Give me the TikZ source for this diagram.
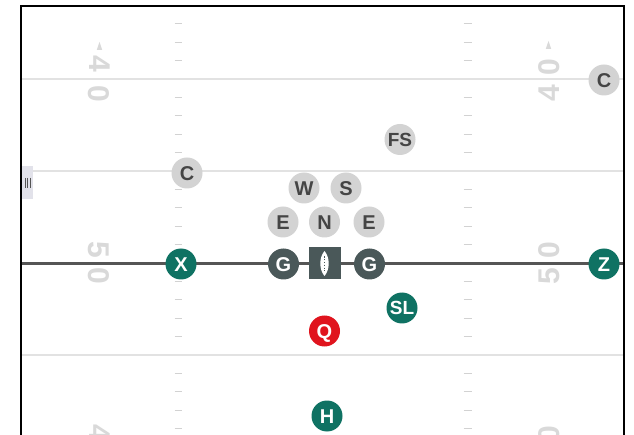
\documentclass[tikz,border=0pt]{standalone}
\usepackage{fontspec}
\setmainfont{Liberation Sans}
\definecolor{cgray}{HTML}{D3D3D3}
\definecolor{ctext}{HTML}{454545}
\definecolor{cdark}{HTML}{4A5859}
\definecolor{cteal}{HTML}{0F7263}
\definecolor{cred}{HTML}{E0141E}
\definecolor{cline}{HTML}{E2E2E2}
\definecolor{chash}{HTML}{D2D2D2}
\definecolor{cnum}{HTML}{D9D9D9}
\definecolor{clos}{HTML}{555555}
\definecolor{ctab}{HTML}{E2E2EA}
\begin{document}
\begin{tikzpicture}[x=1pt,y=-1pt,
  pl/.style={circle, minimum size=31pt, inner sep=0pt, text height=14.3pt, text depth=0pt,
    font=\bfseries\fontsize{20}{20}\selectfont},
  two/.style={font=\bfseries\fontsize{19}{19}\selectfont, text height=13.6pt},
  def/.style={pl, fill=cgray, text=ctext},
  dk/.style={pl, fill=cdark, text=white},
  tl/.style={pl, fill=cteal, text=white},
  rd/.style={pl, fill=cred, text=white},
  ballbox/.style={rectangle, minimum size=32pt, inner sep=0pt, fill=cdark},
  yard/.style={cline, line width=1.3pt},
  hashmk/.style={chash, line width=0.9pt},
  los/.style={clos, line width=3pt},
  numL/.style={cnum, rotate=-90, inner sep=0pt, font=\bfseries\fontsize{30}{30}\selectfont},
  numR/.style={cnum, rotate=90, inner sep=0pt, font=\bfseries\fontsize{30}{30}\selectfont},
  frame/.style={black, line width=2pt}
]
\useasboundingbox (0,0) rectangle (634,435);
\clip (0,0) rectangle (634,435);
\fill[white] (0,0) rectangle (634,435);

% yard lines
\coordinate (a1) at (21,79);  \coordinate (b1) at (624,79);
\coordinate (a2) at (21,171); \coordinate (b2) at (624,171);
\coordinate (a3) at (21,355); \coordinate (b3) at (624,355);
\draw[yard] (a1) -- (b1);
\draw[yard] (a2) -- (b2);
\draw[yard] (a3) -- (b3);

% hash marks
\foreach \k in {-3,-2,-1,1,2,3,4,6,7,8,9,11,12,13,14,16,17,18,19}{
  \draw[hashmk] (174.5,{79+18.4*\k}) -- (182,{79+18.4*\k});
  \draw[hashmk] (463.5,{79+18.4*\k}) -- (471.5,{79+18.4*\k});
}

% yard numbers, left side
\node[numL] (l4a) at (99.5,64) {4};
\node[numL] (l0a) at (99,94) {0};
\node[numL] (l5b) at (99,250) {5};
\node[numL] (l0b) at (99,276) {0};
\node[numL] (l4c) at (99.5,433) {4};
\fill[cnum] (99.5,42) -- (102.2,50) -- (96.8,50) -- cycle;
% yard numbers, right side
\node[numR] (r0a) at (549,67) {0};
\node[numR] (r4a) at (549,93) {4};
\node[numR] (r0b) at (549,250) {0};
\node[numR] (r5b) at (549,276) {5};
\node[numR] (r0c) at (549,434) {0};
\fill[cnum] (548.5,41) -- (551.2,49) -- (545.8,49) -- cycle;

% line of scrimmage
\coordinate (lL) at (21,264);
\coordinate (lR) at (624,264);
\draw[los] (lL) -- (lR);

% side tab
\fill[ctab] (22,166) rectangle (33,199);
\foreach \xx in {25.3,27.8,30.3}{
  \draw[clos, line width=1.1pt] (\xx,178) -- (\xx,188);
}

% frame
\coordinate (fBL) at (21,436);
\coordinate (fTL) at (21,6);
\coordinate (fTR) at (624,6);
\coordinate (fBR) at (624,436);
\draw[frame] (fBL) -- (fTL) -- (fTR) -- (fBR);

% defense
\node[def] (CL) at (187,173) {C};
\node[def] (CR) at (604,80) {C};
\node[def,two] (FS) at (400,139.5) {FS};
\node[def] (W) at (304,188) {W};
\node[def] (S) at (346,188) {S};
\node[def] (EL) at (283,222) {E};
\node[def] (N) at (324.5,222) {N};
\node[def] (ER) at (369,222) {E};

% offense
\node[dk] (GL) at (283.5,264) {G};
\node[ballbox] (ball) at (324.5,263.5) {};
\node[dk] (GR) at (369.5,264) {G};
\begin{scope}[shift={(ball.center)}]
  \fill[white] (0,-12.5) .. controls (5.6,-6) and (5.6,6) .. (0,12.5)
               .. controls (-5.6,6) and (-5.6,-6) .. (0,-12.5);
  \draw[cdark, line width=1.6pt, dash pattern=on 1.6pt off 1.3pt] (0,-7.5) -- (0,7.5);
\end{scope}
\node[tl] (X) at (181,264) {X};
\node[tl] (Z) at (604,264) {Z};
\node[tl,two] (SL) at (402,308) {SL};
\node[rd] (Q) at (324.5,331) {Q};
\node[tl] (H) at (327,416) {H};
\end{tikzpicture}
\end{document}
